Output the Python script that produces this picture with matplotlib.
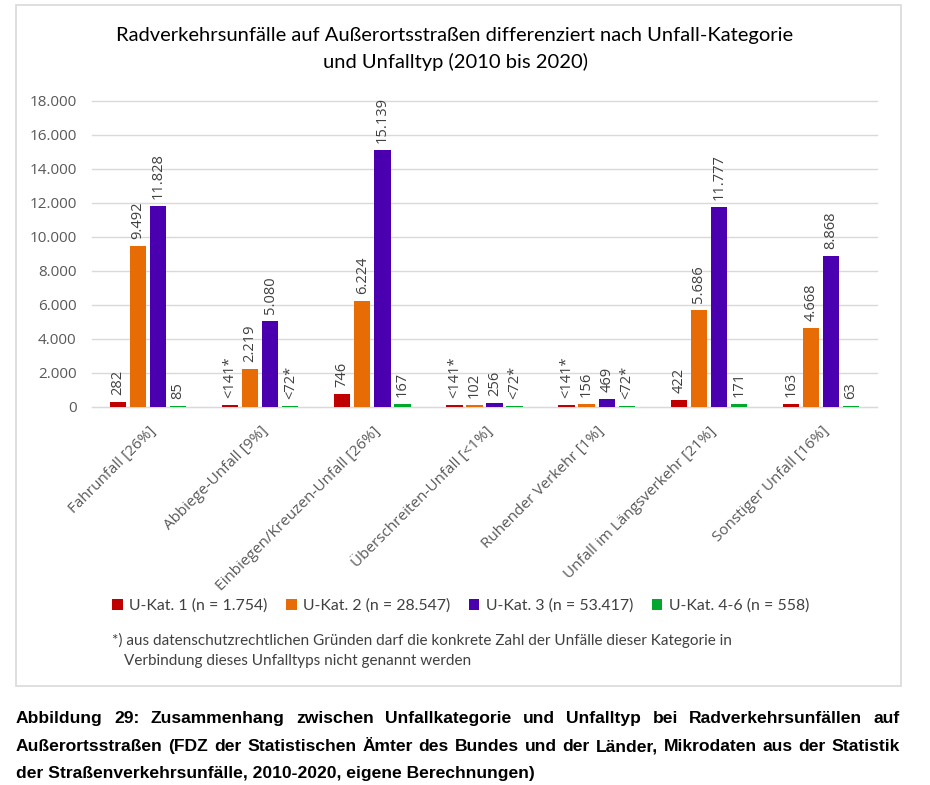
import matplotlib
matplotlib.use('Agg')
import matplotlib.pyplot as plt
import numpy as np
from matplotlib.patches import Rectangle, Patch

categories = ['Fahrunfall [26%]', 'Abbiege-Unfall [9%]', 'Einbiegen/Kreuzen-Unfall [26%]',
              'Überschreiten-Unfall [<1%]', 'Ruhender Verkehr [1%]',
              'Unfall im Längsverkehr [21%]', 'Sonstiger Unfall [16%]']
series_names = ['U-Kat. 1 (n = 1.754)', 'U-Kat. 2 (n = 28.547)',
                'U-Kat. 3 (n = 53.417)', 'U-Kat. 4-6 (n = 558)']
kat1 = [282, 141, 746, 141, 141, 422, 163]
kat2 = [9492, 2219, 6224, 102, 156, 5686, 4668]
kat3 = [11828, 5080, 15139, 256, 469, 11777, 8868]
kat46 = [85, 72, 167, 72, 72, 171, 63]
# values only given as upper bound ("<141*")
kat1_cens = [False, True, False, True, True, False, False]
kat2_cens = [False] * 7
kat3_cens = [False] * 7
kat46_cens = [False, True, False, True, True, False, False]
yticks = [0, 2000, 4000, 6000, 8000, 10000, 12000, 14000, 16000, 18000]

colors = ['#C00000', '#E86C05', '#4A00AE', '#00A82D']
txt_col = '#404040'

def fmt(v):
    return '{:,}'.format(v).replace(',', '.')

fig = plt.figure(figsize=(9.3, 7.85), dpi=100)
ax = fig.add_axes([92/930, 1-407/785, 785/930, 306/785])

x = np.arange(len(categories))
series = [kat1, kat2, kat3, kat46]
cens = [kat1_cens, kat2_cens, kat3_cens, kat46_cens]
slot = 0.179
bw = 0.145
for i, (vals, cf, col) in enumerate(zip(series, cens, colors)):
    xs = x + (i - 1.5) * slot
    ax.bar(xs, vals, width=bw, color=col, zorder=3)
    for xx, v, c in zip(xs, vals, cf):
        lab = '<%d*' % v if c else fmt(v)
        ax.annotate(lab, (xx, v), xytext=(0, 5), textcoords='offset points',
                    rotation=90, ha='center', va='bottom', fontsize=10.5,
                    family='Open Sans', color=txt_col)

ax.set_xlim(-0.5, len(categories) - 0.5)
ax.set_ylim(0, 18000)
ax.set_yticks(yticks)
ax.set_yticklabels([fmt(t) for t in yticks], family='Open Sans', fontsize=11, color='#595959')
ax.grid(axis='y', color='#d9d9d9', linewidth=1, zorder=0)
for ln in ax.get_ygridlines():
    ln.set_clip_on(False)
for s in ['top', 'right', 'left']:
    ax.spines[s].set_visible(False)
ax.spines['bottom'].set_color('#d9d9d9')
ax.tick_params(axis='both', length=0)
ax.tick_params(axis='y', pad=11)
ax.set_xticks(x)
ax.set_xticklabels(categories, rotation=45, ha='right', va='top', rotation_mode='anchor',
                   family='Open Sans', fontsize=11, color='#595959')
ax.tick_params(axis='x', pad=12)

fig.text(455/930, 1-35/785, 'Radverkehrsunfälle auf Außerortsstraßen differenziert nach Unfall-Kategorie',
         ha='center', va='center', family='Lato', fontsize=14.5, color='black')
fig.text(455/930, 1-62/785, 'und Unfalltyp (2010 bis 2020)',
         ha='center', va='center', family='Lato', fontsize=14.5, color='black')

handles = [Patch(facecolor=c) for c in colors]
leg = fig.legend(handles, series_names, loc='center left', bbox_to_anchor=(98/930, 1-606/785),
                 ncol=4, frameon=False, handlelength=0.65, handleheight=0.65,
                 handletextpad=0.4, columnspacing=1.2,
                 prop={'family': 'Lato', 'size': 11.4})
for t in leg.get_texts():
    t.set_color(txt_col)

fig.text(112/930, 1-640/785, '*) aus datenschutzrechtlichen Gründen darf die konkrete Zahl der Unfälle dieser Kategorie in',
         ha='left', va='center', family='Lato', fontsize=11, color=txt_col)
fig.text(124/930, 1-661/785, 'Verbindung dieses Unfalltyps nicht genannt werden',
         ha='left', va='center', family='Lato', fontsize=11, color=txt_col)

# frame around the chart
fig.patches.append(Rectangle((16/930, 1-686/785), 885/930, 681/785, transform=fig.transFigure,
                             fill=False, edgecolor='#d9d9d9', linewidth=1.2))

# justified caption
cap_lines = ['Abbildung 29: Zusammenhang zwischen Unfallkategorie und Unfalltyp bei Radverkehrsunfällen auf',
             'Außerortsstraßen (FDZ der Statistischen Ämter des Bundes und der Länder, Mikrodaten aus der Statistik',
             'der Straßenverkehrsunfälle, 2010-2020, eigene Berechnungen)']
cap_y = [723, 751, 778]
cap_font = dict(family=['Liberation Sans Narrow', 'Liberation Sans'], fontsize=12.6,
                weight='bold', color='black')
left, right = 16, 900
r = fig.canvas.get_renderer()
for k, (line, yy) in enumerate(zip(cap_lines, cap_y)):
    if k == len(cap_lines) - 1:
        fig.text(left/930, 1-yy/785, line, ha='left', va='baseline', **cap_font)
        continue
    words = line.split(' ')
    arts = [fig.text(0, 1-yy/785, w, ha='left', va='baseline', **cap_font) for w in words]
    widths = [a.get_window_extent(r).width for a in arts]
    gap = (right - left - sum(widths)) / (len(words) - 1)
    pos = left
    for a, w in zip(arts, widths):
        a.set_x(pos/930)
        pos += w + gap

fig.savefig('out.png', dpi=100)
